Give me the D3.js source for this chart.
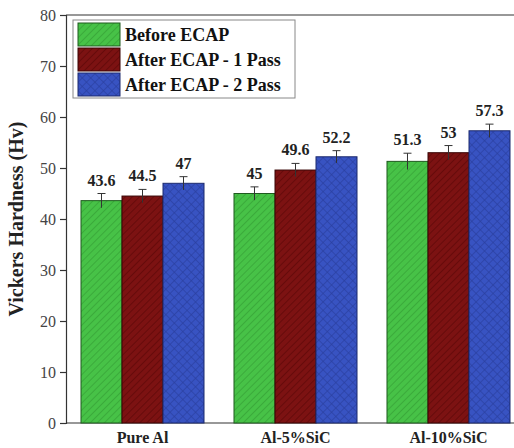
<!DOCTYPE html>
<html>
<head>
<meta charset="utf-8">
<script src="https://cdnjs.cloudflare.com/ajax/libs/d3/7.8.5/d3.min.js"></script>
<style>
  body { margin: 0; background: #fff; }
  svg { display: block; }
</style>
</head>
<body>
<div id="chart"></div>
<script>
var categories = ['Pure Al', 'Al-5%SiC', 'Al-10%SiC'];
var series = ['Before ECAP', 'After ECAP - 1 Pass', 'After ECAP - 2 Pass'];
var values = [
  [43.6, 44.5, 47],
  [45, 49.6, 52.2],
  [51.3, 53, 57.3]
];
var errors = [
  [1.4, 1.3, 1.3],
  [1.3, 1.3, 1.2],
  [1.6, 1.4, 1.3]
];
var yTicks = [0, 10, 20, 30, 40, 50, 60, 70, 80];

var W = 514, H = 448;
var plotLeft = 66, plotTop = 15, plotBottom = 423, plotRight = 525;
var serif = '"Liberation Serif", "DejaVu Serif", serif';

var svg = d3.select('#chart').append('svg')
   .attr('width', W)
   .attr('height', H);

// hatch patterns for the three series
var defs = svg.append('defs');
function stripes(id, base, line){
   var p = defs.append('pattern')
      .attr('id', id)
      .attr('patternUnits', 'userSpaceOnUse')
      .attr('width', 5).attr('height', 5)
      .attr('patternTransform', 'rotate(45)');
   p.append('rect').attr('width', 5).attr('height', 5).attr('fill', base);
   p.append('line').attr('x1', 0).attr('y1', 0).attr('x2', 0).attr('y2', 5)
      .attr('stroke', line).attr('stroke-width', 1.4);
}
stripes('pg', '#47c247', '#35a035');
stripes('pr', '#7c1212', '#5c0707');
(function(){
   var p = defs.append('pattern')
      .attr('id', 'pb')
      .attr('patternUnits', 'userSpaceOnUse')
      .attr('width', 6).attr('height', 6)
      .attr('patternTransform', 'rotate(45)');
   p.append('rect').attr('width', 6).attr('height', 6).attr('fill', '#3853c2');
   p.append('line').attr('x1', 0).attr('y1', 0).attr('x2', 0).attr('y2', 6)
      .attr('stroke', '#2a3f9e').attr('stroke-width', 1.3);
   p.append('line').attr('x1', 0).attr('y1', 0).attr('x2', 6).attr('y2', 0)
      .attr('stroke', '#2a3f9e').attr('stroke-width', 1.3);
})();
var fills = ['url(#pg)', 'url(#pr)', 'url(#pb)'];
var edges = ['#1f5a1f', '#3a0505', '#1c2a6e'];

var x0 = d3.scaleBand()
   .domain(categories)
   .range([plotLeft, plotRight])
   .paddingInner(0.196)
   .paddingOuter(0.098);

var x1 = d3.scaleBand()
   .domain(d3.range(series.length))
   .range([0, x0.bandwidth()]);

var y = d3.scaleLinear()
   .domain([0, 80])
   .range([plotBottom, plotTop]);

// frame
svg.append('line')
   .attr('x1', plotLeft).attr('x2', plotRight)
   .attr('y1', plotTop).attr('y2', plotTop)
   .attr('stroke', '#333').attr('stroke-width', 1.2);
svg.append('line')
   .attr('x1', plotLeft).attr('x2', plotRight)
   .attr('y1', plotBottom).attr('y2', plotBottom)
   .attr('stroke', '#333').attr('stroke-width', 1.2);

// y axis
var yAxis = svg.append('g')
   .attr('transform', 'translate(' + plotLeft + ',0)')
   .call(d3.axisLeft(y).tickValues(yTicks).tickSize(6).tickPadding(4));
yAxis.select('.domain').attr('stroke', '#333').attr('stroke-width', 1.2);
yAxis.selectAll('.tick line').attr('stroke', '#333').attr('stroke-width', 1.2);
yAxis.selectAll('.tick text')
   .attr('font-family', serif)
   .attr('font-size', 16)
   .attr('fill', '#444');

svg.append('text')
   .attr('transform', 'translate(23,' + (plotTop + plotBottom) / 2 + ') rotate(-90)')
   .attr('text-anchor', 'middle')
   .attr('font-family', serif)
   .attr('font-weight', 'bold')
   .attr('font-size', 20)
   .attr('fill', '#222')
   .text('Vickers Hardness (Hv)');

// category labels
svg.selectAll('text.cat')
   .data(categories).enter()
   .append('text')
   .attr('class', 'cat')
   .attr('x', function(d){ return x0(d) + x0.bandwidth() / 2; })
   .attr('y', plotBottom + 20)
   .attr('text-anchor', 'middle')
   .attr('font-family', serif)
   .attr('font-weight', 'bold')
   .attr('font-size', 16)
   .attr('fill', '#222')
   .text(function(d){ return d; });

// bars
var groups = svg.selectAll('g.grp')
   .data(categories).enter()
   .append('g')
   .attr('class', 'grp')
   .attr('transform', function(d){ return 'translate(' + x0(d) + ',0)'; });

var cells = groups.selectAll('g.cell')
   .data(function(d, i){
      return values[i].map(function(v, j){ return {v: v, e: errors[i][j], s: j}; });
   }).enter()
   .append('g')
   .attr('class', 'cell');

cells.append('rect')
   .attr('x', function(d){ return x1(d.s); })
   .attr('y', function(d){ return y(d.v); })
   .attr('width', x1.bandwidth())
   .attr('height', function(d){ return y(0) - y(d.v); })
   .attr('fill', function(d){ return fills[d.s]; })
   .attr('stroke', function(d){ return edges[d.s]; })
   .attr('stroke-width', 1);

// error bars
cells.append('line')
   .attr('x1', function(d){ return x1(d.s) + x1.bandwidth() / 2; })
   .attr('x2', function(d){ return x1(d.s) + x1.bandwidth() / 2; })
   .attr('y1', function(d){ return y(d.v - d.e); })
   .attr('y2', function(d){ return y(d.v + d.e); })
   .attr('stroke', '#333').attr('stroke-width', 1);
cells.append('line')
   .attr('x1', function(d){ return x1(d.s) + x1.bandwidth() / 2 - 4; })
   .attr('x2', function(d){ return x1(d.s) + x1.bandwidth() / 2 + 4; })
   .attr('y1', function(d){ return y(d.v + d.e); })
   .attr('y2', function(d){ return y(d.v + d.e); })
   .attr('stroke', '#333').attr('stroke-width', 1);

cells.append('text')
   .attr('x', function(d){ return x1(d.s) + x1.bandwidth() / 2; })
   .attr('y', function(d){ return y(d.v + d.e) - 8; })
   .attr('text-anchor', 'middle')
   .attr('font-family', serif)
   .attr('font-weight', 'bold')
   .attr('font-size', 16)
   .attr('fill', '#222')
   .text(function(d){ return d.v; });

// legend
var lg = svg.append('g').attr('transform', 'translate(73,20)');
lg.append('rect')
   .attr('width', 222).attr('height', 78)
   .attr('fill', '#fff')
   .attr('stroke', '#888').attr('stroke-width', 1);
var items = lg.selectAll('g.item')
   .data(series).enter()
   .append('g')
   .attr('class', 'item')
   .attr('transform', function(d, i){ return 'translate(5,' + (3 + i * 25) + ')'; });
items.append('rect')
   .attr('width', 42).attr('height', 23)
   .attr('fill', function(d, i){ return fills[i]; })
   .attr('stroke', function(d, i){ return edges[i]; });
items.append('text')
   .attr('x', 47).attr('y', 18)
   .attr('font-family', serif)
   .attr('font-weight', 'bold')
   .attr('font-size', 18)
   .attr('fill', '#111')
   .text(function(d){ return d; });
</script>
</body>
</html>
